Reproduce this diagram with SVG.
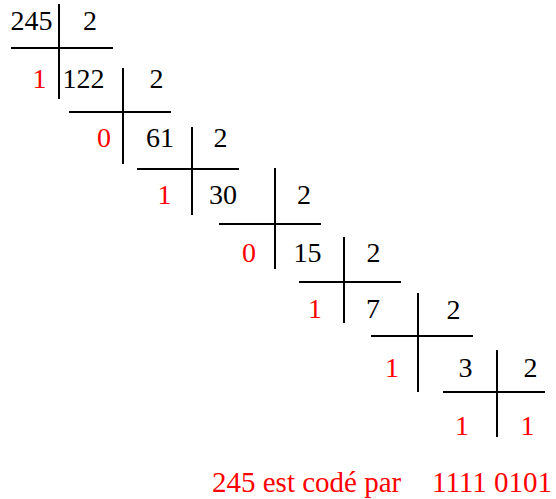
<svg xmlns="http://www.w3.org/2000/svg" width="556" height="499" viewBox="0 0 556 499">
<style>
text{font-family:'Liberation Serif','Times New Roman',serif;font-size:28px;fill:#000;text-anchor:middle}
text.r{fill:#ff0000}
#result text{font-size:29px;text-anchor:start}
line{stroke:#000;stroke-width:2}
</style>
<rect width="556" height="499" fill="#fff"/>
<g id="step1">
<line x1="59" y1="4" x2="59" y2="99"/>
<line x1="11" y1="48" x2="113" y2="48"/>
<text x="31.5" y="30">245</text>
<text x="90" y="30">2</text>
<text class="r" x="39.5" y="88">1</text>
</g>
<g id="step2">
<line x1="123" y1="68" x2="123" y2="164"/>
<line x1="69" y1="112" x2="171" y2="112"/>
<text x="83.5" y="88">122</text>
<text x="156.5" y="88">2</text>
<text class="r" x="104" y="147">0</text>
</g>
<g id="step3">
<line x1="192" y1="127" x2="192" y2="215"/>
<line x1="137" y1="169" x2="239" y2="169"/>
<text x="160" y="147">61</text>
<text x="220.5" y="147">2</text>
<text class="r" x="164.5" y="204">1</text>
</g>
<g id="step4">
<line x1="275" y1="168" x2="275" y2="269"/>
<line x1="219" y1="224" x2="321" y2="224"/>
<text x="223" y="204">30</text>
<text x="304" y="204">2</text>
<text class="r" x="249" y="262">0</text>
</g>
<g id="step5">
<line x1="344" y1="237" x2="344" y2="323"/>
<line x1="299" y1="282" x2="401" y2="282"/>
<text x="307.5" y="262">15</text>
<text x="373.5" y="262">2</text>
<text class="r" x="315" y="318">1</text>
</g>
<g id="step6">
<line x1="418" y1="293" x2="418" y2="392"/>
<line x1="371" y1="336" x2="473" y2="336"/>
<text x="373" y="318">7</text>
<text x="453.5" y="319">2</text>
<text class="r" x="392" y="377">1</text>
</g>
<g id="step7">
<line x1="497" y1="350" x2="497" y2="437"/>
<line x1="443" y1="392" x2="545" y2="392"/>
<text x="465.5" y="377">3</text>
<text x="530.5" y="377">2</text>
<text class="r" x="462" y="435">1</text>
<text class="r" x="527.5" y="435">1</text>
</g>
<g id="result">
<text class="r" x="212" y="492">245 est codé par</text>
<text class="r" x="432" y="492">1111 0101</text>
</g>
</svg>
